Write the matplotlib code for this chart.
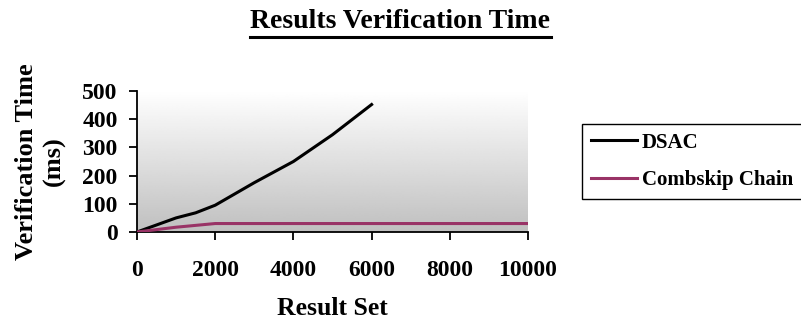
import numpy as np
import matplotlib
matplotlib.use("Agg")
import matplotlib.pyplot as plt

x_dsac = [0, 500, 1000, 1500, 2000, 3000, 4000, 5000, 6000]
y_dsac = [0, 25, 50, 68, 95, 175, 250, 345, 452]
x_comb = [0, 1000, 2000, 4000, 6000, 8000, 10000]
y_comb = [0, 17, 30, 30, 30, 30, 30]
x_ticks = [0, 2000, 4000, 6000, 8000, 10000]
y_ticks = [0, 100, 200, 300, 400, 500]

plt.rcParams['font.family'] = ['Liberation Serif', 'DejaVu Serif']
plt.rcParams['font.weight'] = 'bold'

W, H = 801, 320
fig = plt.figure(figsize=(W/100, H/100), dpi=100)
l, r, t, b = 137, 528, 91, 232
ax = fig.add_axes([l/W, 1-b/H, (r-l)/W, (b-t)/H])

grad = np.linspace(1.0, 0.75, 256).reshape(-1, 1)
ax.imshow(grad, cmap='gray', vmin=0, vmax=1, aspect='auto',
          extent=[0, 1, 0, 1], transform=ax.transAxes, zorder=0)

ax.plot(x_dsac, y_dsac, color='black', lw=2.2, label='DSAC', zorder=3)
ax.plot(x_comb, y_comb, color='#993366', lw=2.2, label='Combskip Chain', zorder=3)

ax.set_xlim(0, 10000)
ax.set_ylim(0, 500)
ax.set_xticks(x_ticks)
ax.set_yticks(y_ticks)
ax.tick_params(axis='both', labelsize=17, width=1.3, length=6, direction='out')
ax.tick_params(axis='x', pad=14)
ax.tick_params(axis='y', pad=8)
for s in ['top', 'right']:
    ax.spines[s].set_visible(False)
for s in ['left', 'bottom']:
    ax.spines[s].set_linewidth(1.3)
for lab in ax.get_xticklabels() + ax.get_yticklabels():
    lab.set_fontweight('bold')

ax.set_xlabel('Result Set', fontsize=18.5, fontweight='bold', labelpad=12)
ax.set_ylabel('Verification Time\n(ms)', fontsize=19, fontweight='bold', labelpad=12,
              linespacing=1.2)

fig.text(0.5 * (250 + 551) / W, 1 - 22 / H, 'Results Verification Time',
         ha='center', va='center', fontsize=20, fontweight='bold')
fig.add_artist(plt.Line2D([250/W, 551/W], [1-37/H, 1-37/H], color='black', lw=2.2))

leg = fig.legend(loc='upper left', bbox_to_anchor=(582/W, 1-124/H), frameon=True,
                 fancybox=False, edgecolor='black', framealpha=1,
                 prop={'family': 'Liberation Serif', 'weight': 'bold', 'size': 15},
                 handlelength=2.2, labelspacing=0.85, borderpad=0.42,
                 handletextpad=0.25, borderaxespad=0)
leg.get_frame().set_linewidth(1.0)

fig.savefig('out.png', dpi=100)
